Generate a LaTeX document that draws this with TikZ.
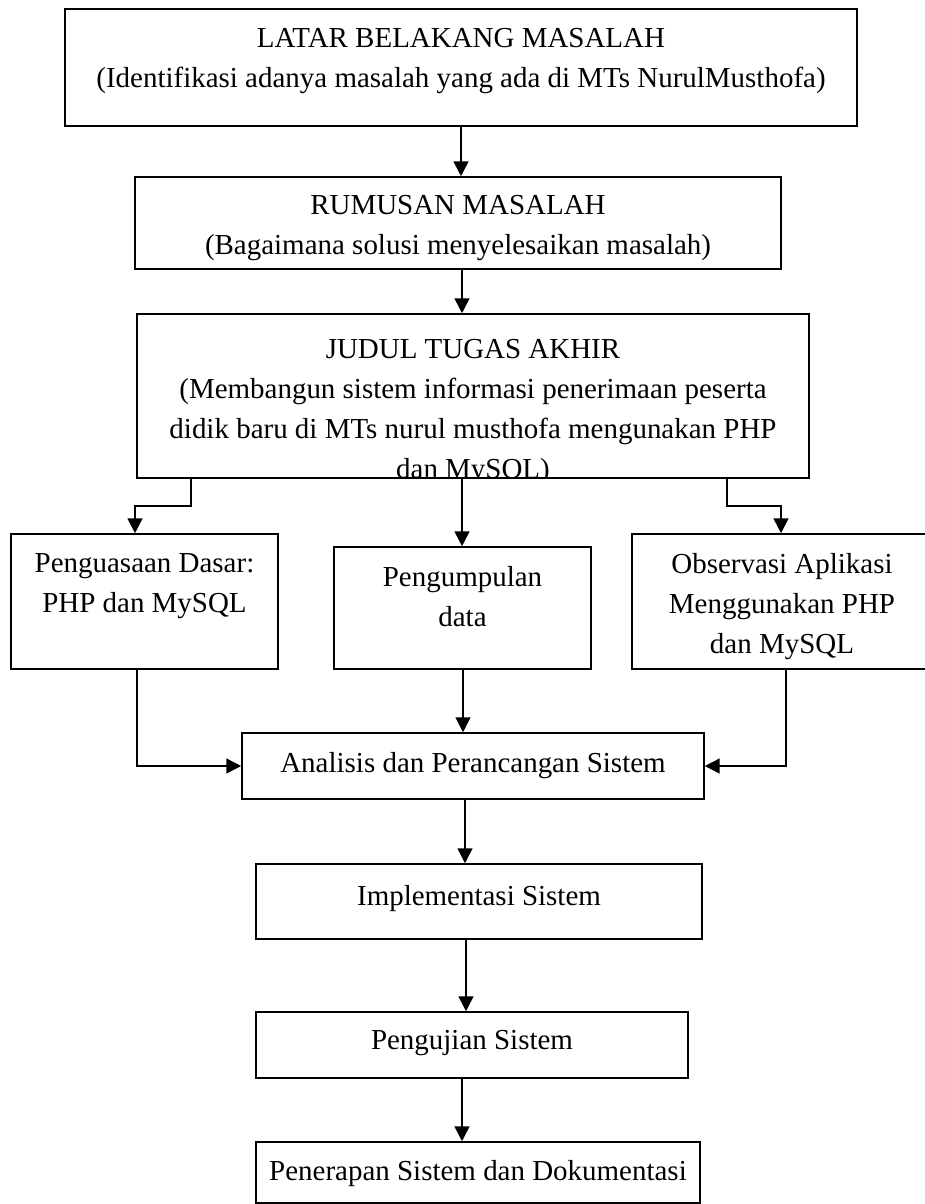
\documentclass[tikz,border=0pt]{standalone}
\usepackage{fontspec}
\setmainfont{Liberation Serif}
\usetikzlibrary{arrows.meta,fit,calc}

\begin{document}
\begin{tikzpicture}[x=0.025cm, y=-0.025cm,
box/.style = {draw, line width=1.1pt, inner sep=0pt},
txt/.style = {anchor=north, align=center, inner sep=0pt, font=\fontsize{20.6}{28.45}\selectfont},
arr/.style = {line width=1.1pt, -{Triangle[width=10.5pt, length=10.5pt]}}
]
\useasboundingbox (0,0) rectangle (925,1204);
\clip (0,0) rectangle (925,1204);
% boxes
\node[box, fit={(65,9) (857,126)}] (latar) {};
\node[box, fit={(135,177) (781,269)}] (rumusan) {};
\node[box, fit={(137,314) (809,478)}] (judul) {};
\node[box, fit={(11,534) (278,669)}] (dasar) {};
\node[box, fit={(334,547) (591,669)}] (data) {};
\node[box, fit={(632,534) (932,669)}] (observasi) {};
\node[box, fit={(242,733) (704,799)}] (analisis) {};
\node[box, fit={(256,864) (702,939)}] (implementasi) {};
\node[box, fit={(256,1012) (688,1078)}] (pengujian) {};
\node[box, fit={(256,1142) (700,1203)}] (penerapan) {};
% texts
\node[txt] (latar-t) at ($(latar.north)+(0,20)$) {LATAR BELAKANG MASALAH\\(Identifikasi adanya masalah yang ada di MTs NurulMusthofa)};
\node[txt] (rumusan-t) at ($(rumusan.north)+(0,19)$) {RUMUSAN MASALAH\\(Bagaimana solusi menyelesaikan masalah)};
\begin{scope}
\clip (137,314) rectangle (809,477);
\node[txt] (judul-t) at ($(judul.north)+(0,26)$) {JUDUL TUGAS AKHIR\\(Membangun sistem informasi penerimaan peserta\\didik baru di MTs nurul musthofa mengunakan PHP\\dan MySQL)};
\end{scope}
\node[txt] (dasar-t) at ($(dasar.north)+(0,20)$) {Penguasaan Dasar:\\PHP dan MySQL};
\node[txt] (data-t) at ($(data.north)+(0,20)$) {Pengumpulan\\data};
\node[txt] (observasi-t) at ($(observasi.north)+(0,20)$) {Observasi Aplikasi\\Menggunakan PHP\\dan MySQL};
\node[txt] (analisis-t) at ($(analisis.north)+(0,20)$) {Analisis dan Perancangan Sistem};
\node[txt] (implementasi-t) at ($(implementasi.north)+(0,22)$) {Implementasi Sistem};
\node[txt] (pengujian-t) at ($(pengujian.north)+(0,19)$) {Pengujian Sistem};
\node[txt] (penerapan-t) at ($(penerapan.north)+(0,19)$) {Penerapan Sistem dan Dokumentasi};
% connectors
\foreach \i/\j/\x in {latar/rumusan/461, rumusan/judul/462, judul/data/462, data/analisis/463,
  analisis/implementasi/465, implementasi/pengujian/466, pengujian/penerapan/462}
  {\draw[arr] (\x,0 |- \i.south) -- (\x,0 |- \j.north);}
\coordinate (kiri) at (135,506);
\coordinate (kanan) at (781,506);
\draw[arr] (191,0 |- judul.south) |- (kiri) -- (kiri |- dasar.north);
\draw[arr] (727,0 |- judul.south) |- (kanan) -- (kanan |- observasi.north);
\draw[arr] (137,0 |- dasar.south) |- (analisis.west);
\draw[arr] (786,0 |- observasi.south) |- (analisis.east);
\end{tikzpicture}
\end{document}
